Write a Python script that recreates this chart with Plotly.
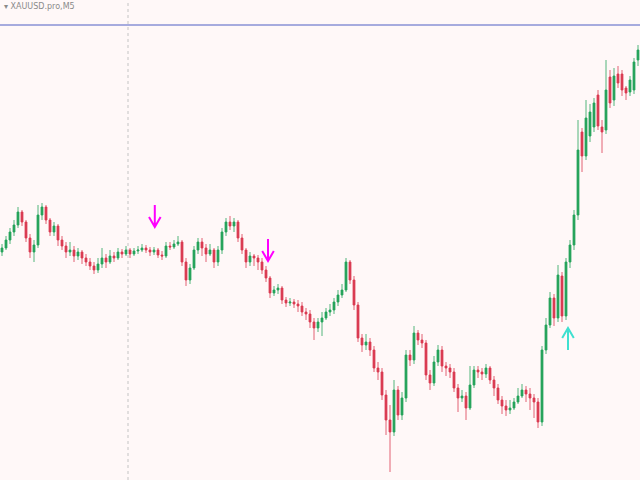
import plotly.graph_objects as go

# XAUUSD.pro M5 candles (prices)
opens = [1974.8,1975.2,1976.0,1976.8,1977.5,1978.8,1977.8,1976.2,1974.8,1975.5,
         1978.5,1979.3,1978.0,1976.8,1977.4,1976.0,1975.4,1974.8,1975.0,1974.4,
         1974.8,1974.2,1973.8,1973.4,1973.0,1973.6,1974.2,1973.8,1974.4,1974.2,
         1974.8,1974.6,1975.0,1974.6,1974.9,1975.0,1975.2,1975.0,1974.8,1975.0,
         1974.5,1974.4,1975.4,1975.3,1975.6,1975.8,1973.8,1972.0,1973.2,1975.0,
         1975.8,1975.2,1974.6,1975.0,1973.8,1975.0,1976.8,1977.8,1977.4,1977.8,
         1976.2,1975.0,1973.8,1974.4,1974.2,1973.8,1973.0,1972.2,1970.7,1971.0,
         1971.2,1970.0,1969.7,1969.8,1969.6,1969.4,1968.8,1968.6,1967.8,1967.2,
         1967.8,1968.2,1968.8,1969.0,1969.8,1970.5,1971.0,1973.8,1972.0,1969.5,
         1966.2,1965.5,1965.8,1965.0,1963.2,1962.8,1960.5,1958.0,1956.8,1961.0,
         1958.5,1960.2,1964.5,1964.0,1966.7,1966.0,1965.7,1962.5,1961.7,1963.8,
         1965.0,1963.4,1963.2,1962.8,1961.2,1960.2,1960.4,1959.2,1961.5,1963.0,
         1962.8,1962.6,1963.2,1962.0,1961.2,1960.0,1959.4,1959.0,1959.2,1959.8,
         1960.4,1961.0,1960.6,1960.2,1959.8,1957.8,1965.0,1967.5,1970.2,1968.2,
         1972.4,1968.4,1973.8,1975.5,1978.5,1986.8,1984.4,1986.4,1987.3,1990.5,
         1987.3,1987.0,1992.3,1990.0,1992.6,1992.6,1991.2,1990.8,1991.0,1994.0]

closes = [1975.2,1976.0,1976.8,1977.5,1978.8,1977.8,1976.2,1974.8,1975.5,1978.5,
          1979.3,1978.0,1976.8,1977.4,1976.0,1975.4,1974.8,1975.0,1974.4,1974.8,
          1974.2,1973.8,1973.4,1973.0,1973.6,1974.2,1973.8,1974.4,1974.2,1974.8,
          1974.6,1975.0,1974.6,1974.9,1975.0,1975.2,1975.0,1974.8,1975.0,1974.5,
          1974.4,1975.4,1975.3,1975.6,1975.8,1973.8,1972.0,1973.2,1975.0,1975.8,
          1975.2,1974.6,1975.0,1973.8,1975.0,1976.8,1977.8,1977.4,1977.8,1976.2,
          1975.0,1973.8,1974.4,1974.2,1973.8,1973.0,1972.2,1970.7,1971.0,1971.2,
          1970.0,1969.7,1969.8,1969.6,1969.4,1968.8,1968.6,1967.8,1967.2,1967.8,
          1968.2,1968.8,1969.0,1969.8,1970.5,1971.0,1973.8,1972.0,1969.5,1966.2,
          1965.5,1965.8,1965.0,1963.2,1962.8,1960.5,1958.0,1956.8,1961.0,1958.5,
          1960.2,1964.5,1964.0,1966.7,1966.0,1965.7,1962.5,1961.7,1963.8,1965.0,
          1963.4,1963.2,1962.8,1961.2,1960.2,1960.4,1959.2,1961.5,1963.0,1962.8,
          1962.6,1963.2,1962.0,1961.2,1960.0,1959.4,1959.0,1959.2,1959.8,1960.4,
          1961.0,1960.6,1960.2,1959.8,1957.8,1965.0,1967.5,1970.2,1968.2,1972.5,
          1968.4,1973.8,1975.5,1978.5,1985.0,1984.4,1988.2,1988.8,1989.7,1987.4,
          1986.8,1991.0,1989.7,1992.4,1991.7,1991.0,1990.7,1992.0,1993.8,1995.0]

highs = [1975.6,1976.4,1977.2,1978.0,1979.3,1979.0,1978.0,1976.6,1976.0,1979.5,
         1979.7,1979.5,1978.2,1977.8,1977.6,1976.4,1975.8,1975.8,1975.4,1975.2,
         1975.0,1974.6,1974.2,1973.8,1974.2,1975.2,1974.6,1975.0,1974.8,1975.2,
         1975.1,1975.4,1975.2,1975.2,1975.4,1975.6,1975.5,1975.3,1975.3,1975.2,
         1974.9,1975.8,1975.8,1976.0,1976.4,1976.0,1974.2,1973.6,1975.4,1976.2,
         1976.2,1975.6,1975.6,1975.2,1975.4,1977.2,1978.2,1978.4,1978.2,1978.0,
         1976.6,1975.2,1974.8,1974.6,1974.5,1974.2,1973.4,1972.4,1971.4,1971.6,
         1971.4,1970.3,1970.2,1970.1,1970.0,1969.8,1969.2,1969.0,1968.2,1968.2,
         1968.8,1969.2,1969.6,1970.2,1971.0,1971.6,1974.2,1974.0,1972.4,1969.8,
         1966.6,1966.6,1966.2,1965.4,1963.8,1963.2,1961.0,1959.5,1962.0,1961.4,
         1960.8,1965.0,1965.0,1967.4,1967.0,1966.6,1966.0,1963.0,1964.4,1965.5,
         1965.4,1963.8,1963.6,1963.2,1961.6,1961.0,1960.8,1963.4,1963.4,1963.4,
         1963.2,1963.6,1963.4,1962.4,1961.6,1960.4,1960.0,1960.0,1960.2,1961.2,
         1961.6,1961.4,1961.2,1960.6,1960.2,1965.4,1968.2,1970.8,1970.6,1973.5,
         1972.8,1974.2,1976.0,1979.0,1988.0,1987.2,1990.0,1989.6,1990.2,1991.0,
         1988.0,1994.0,1993.0,1993.2,1993.4,1993.0,1991.4,1992.4,1994.2,1995.5]

lows = [1974.4,1975.0,1975.6,1976.4,1977.2,1977.4,1975.8,1974.2,1973.8,1975.2,
        1978.0,1977.6,1976.4,1976.4,1975.4,1975.0,1974.2,1974.4,1973.8,1974.0,
        1973.6,1973.4,1973.0,1972.6,1972.7,1973.2,1973.2,1973.6,1973.8,1974.0,
        1974.2,1974.4,1974.2,1974.4,1974.6,1974.8,1974.7,1974.4,1974.5,1974.2,
        1974.0,1974.2,1975.0,1975.1,1975.4,1973.4,1971.4,1971.6,1973.0,1974.6,
        1974.4,1973.8,1974.4,1973.2,1973.4,1974.6,1976.4,1977.0,1976.8,1975.8,
        1974.6,1973.2,1973.4,1973.4,1973.0,1972.6,1971.8,1970.2,1970.4,1970.6,
        1969.6,1969.3,1969.4,1969.2,1968.8,1968.4,1968.0,1967.2,1966.0,1966.8,
        1966.4,1968.0,1968.4,1968.6,1969.4,1970.2,1970.8,1971.6,1969.0,1965.8,
        1964.8,1965.0,1964.4,1962.8,1962.0,1960.0,1956.5,1952.8,1956.4,1958.0,
        1958.0,1959.8,1963.4,1963.6,1965.5,1965.2,1962.0,1961.0,1961.4,1963.4,
        1962.8,1962.4,1962.2,1960.8,1958.8,1959.8,1958.0,1959.0,1961.2,1962.2,
        1962.0,1962.2,1961.6,1960.4,1959.6,1958.6,1958.4,1958.6,1959.0,1959.6,
        1960.2,1959.8,1959.0,1958.2,1957.2,1957.4,1964.6,1967.2,1967.4,1967.8,
        1967.8,1968.0,1973.2,1975.0,1978.0,1982.8,1984.0,1985.8,1986.8,1987.0,
        1984.7,1986.6,1989.2,1989.4,1991.2,1990.4,1990.0,1990.4,1990.6,1993.4]

bars = list(range(len(closes)))

level_price = 1997.5          # blue horizontal level
separator_bar = 31.5          # dotted vertical separator
# signal arrows: (bar, price at arrow tip)
sell_signals = [(38.2, 1977.3), (66.5, 1973.9)]
buy_signals = [(141.5, 1967.2)]

GREEN = "#26A35B"
RED = "#DA3B52"
BG = "#FFF8F8"
SELL_COLOR = "#FF00FF"
BUY_COLOR = "#40E0D0"

fig = go.Figure(go.Candlestick(
    x=bars, open=opens, high=highs, low=lows, close=closes,
    increasing=dict(line=dict(color=GREEN, width=0.8), fillcolor=GREEN),
    decreasing=dict(line=dict(color=RED, width=0.8), fillcolor=RED),
    whiskerwidth=0, showlegend=False, hoverinfo="skip",
))

fig.add_shape(type="line", xref="x", yref="paper", x0=separator_bar, x1=separator_bar,
              y0=0, y1=1, line=dict(color="#C4C4C4", width=1, dash="dot"))
fig.add_shape(type="line", xref="paper", yref="y", x0=0, x1=1,
              y0=level_price, y1=level_price, line=dict(color="#4F5FC4", width=1))

# arrow glyph size in axis units
shaft = 2.2     # price units
head_dx = 1.45  # bars
head_dy = 1.0   # price units


def arrow_path(bx, tip, direction):
    s = 1 if direction == "down" else -1   # down arrow: tail above tip
    tail = tip + s * shaft
    arm = tip + s * head_dy
    return (f"M {bx},{tail} L {bx},{tip} "
            f"M {bx - head_dx},{arm} L {bx},{tip} L {bx + head_dx},{arm}")


for bx, tip in sell_signals:
    fig.add_shape(type="path", xref="x", yref="y", path=arrow_path(bx, tip, "down"),
                  line=dict(color=SELL_COLOR, width=2))
for bx, tip in buy_signals:
    fig.add_shape(type="path", xref="x", yref="y", path=arrow_path(bx, tip, "up"),
                  line=dict(color=BUY_COLOR, width=2))

fig.add_annotation(xref="paper", yref="paper", x=0.003, y=0.999, xanchor="left", yanchor="top",
                   text="▾ XAUUSD.pro,M5", showarrow=False,
                   font=dict(family="DejaVu Sans", size=8, color="#8A8A8A"))

fig.update_layout(
    width=640, height=480, margin=dict(l=0, r=0, t=0, b=0),
    paper_bgcolor=BG, plot_bgcolor=BG,
    xaxis=dict(range=[-0.5, len(closes) - 0.5], visible=False, rangeslider=dict(visible=False),
               showgrid=False, zeroline=False),
    yaxis=dict(range=[1952, 2000], visible=False, showgrid=False, zeroline=False),
)

fig.write_html("out.html", config={"displayModeBar": False},
               post_script="document.body.style.margin='0';document.body.style.background='#FFF8F8';")
